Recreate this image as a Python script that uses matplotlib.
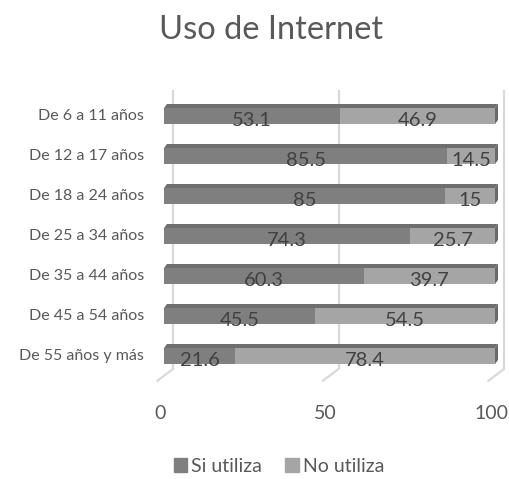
import matplotlib
matplotlib.use("Agg")
import matplotlib.pyplot as plt
from matplotlib.patches import Polygon, Patch

categories = ["De 6 a 11 años", "De 12 a 17 años", "De 18 a 24 años",
              "De 25 a 34 años", "De 35 a 44 años", "De 45 a 54 años",
              "De 55 años y más"]
si_utiliza = [53.1, 85.5, 85, 74.3, 60.3, 45.5, 21.6]
no_utiliza = [46.9, 14.5, 15, 25.7, 39.7, 54.5, 78.4]
series_names = ["Si utiliza", "No utiliza"]
xticks = [0, 50, 100]

plt.rcParams['font.family'] = ['Lato', 'DejaVu Sans']

W, H = 510, 479
fig = plt.figure(figsize=(W/100, H/100), dpi=100)
# axes spanning pixel x 150..510, y 90..385
ax = fig.add_axes([150/W, 1-385/H, 360/W, 295/H])
px = 3.31  # pixels per data unit (x)
ax.set_xlim(-14/px, (510-164)/px)
ax.set_ylim(6.725, -0.65)
ax.axis('off')

c_si = "#7f7f7f"
c_no = "#a5a5a5"
c_top = "#6f6f6f"
c_side = "#6a6a6a"
grid_c = "#d9d9d9"
h = 0.4
depth = 0.1
ddx = 3/px
gdx = 9/px

# back gridlines with floor stubs
for t in xticks:
    ax.plot([t+gdx, t+gdx], [-0.65, 6.325], color=grid_c, lw=1.6, zorder=0,
            solid_capstyle='butt')
    ax.plot([t+gdx, t-2.0], [6.325, 6.62], color=grid_c, lw=1.6, zorder=0)
    ax.text(t-1.2, 7.43, str(t), ha='center', va='center', fontsize=14,
            color="#595959", clip_on=False)

ys = list(range(len(categories)))
ax.barh(ys, si_utiliza, height=h, color=c_si, zorder=2)
ax.barh(ys, no_utiliza, left=si_utiliza, height=h, color=c_no, zorder=2)

for y, a, b in zip(ys, si_utiliza, no_utiliza):
    top = y - h/2
    bot = y + h/2
    tot = a + b
    ax.add_patch(Polygon([(0, top), (ddx, top-depth), (tot+ddx, top-depth), (tot, top)],
                         closed=True, color=c_top, zorder=2, lw=0))
    ax.add_patch(Polygon([(tot, top), (tot+ddx, top-depth), (tot+ddx, bot-depth), (tot, bot)],
                         closed=True, color=c_side, zorder=2, lw=0))
    ax.text(a/2, y+0.1, f"{a:g}", ha='center', va='center', fontsize=14.5,
            color="#404040", zorder=3)
    ax.text(a+b/2, y+0.1, f"{b:g}", ha='center', va='center', fontsize=14.5,
            color="#404040", zorder=3)
    ax.text(-14/px - 6/px, y, categories[y], ha='right', va='center',
            fontsize=11.5, color="#595959", clip_on=False)

fig.text(271/W, 1-30/H, "Uso de Internet", ha='center', va='center',
         fontsize=23.5, color="#595959")

handles = [Patch(color=c_si, label=series_names[0]),
           Patch(color=c_no, label=series_names[1])]
fig.legend(handles=handles, loc='center', bbox_to_anchor=(279/W, 1-466/H),
           ncol=2, frameon=False, fontsize=14, handlelength=0.7,
           handleheight=0.7, handletextpad=0.2, columnspacing=1.2,
           labelcolor="#595959")

fig.savefig("out.png", dpi=100)
